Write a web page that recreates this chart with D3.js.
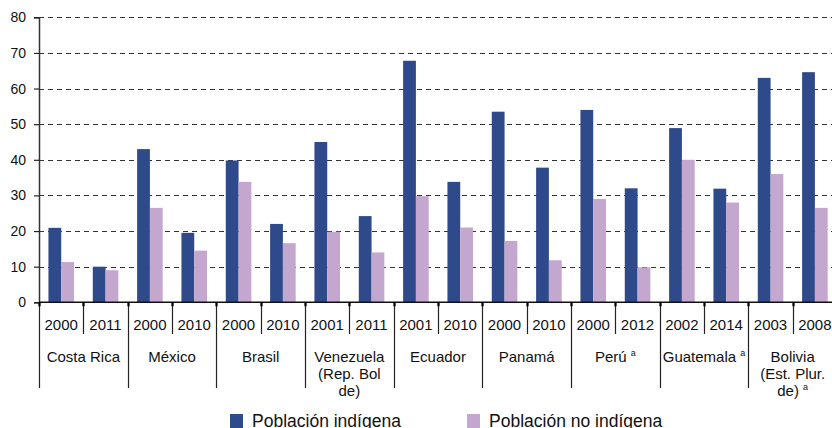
<!DOCTYPE html>
<html>
<head>
<meta charset="utf-8">
<script src="https://cdn.jsdelivr.net/npm/d3@7"></script>
<style>
  body { margin: 0; background: #fff; }
  svg { display: block; font-family: "Liberation Sans", Arial, sans-serif; }
</style>
</head>
<body>
<div id="chart"></div>
<script>
// country groups, each with two survey years
const countries = [
  { name: ['Costa Rica'], note: false },
  { name: ['México'], note: false },
  { name: ['Brasil'], note: false },
  { name: ['Venezuela', '(Rep. Bol', 'de)'], note: false },
  { name: ['Ecuador'], note: false },
  { name: ['Panamá'], note: false },
  { name: ['Perú'], note: true },
  { name: ['Guatemala'], note: true },
  { name: ['Bolivia', '(Est. Plur.', 'de)'], note: true }
];
const years = ['2000', '2011', '2000', '2010', '2000', '2010', '2001', '2011', '2001', '2010',
  '2000', '2010', '2000', '2012', '2002', '2014', '2003', '2008'];
const indigena = [20.9, 10, 43, 19.5, 39.8, 22, 45, 24.2, 67.8, 33.8, 53.5, 37.8, 54, 32, 48.9, 31.9, 63, 64.6];
const noIndigena = [11.3, 9, 26.5, 14.5, 33.8, 16.6, 19.8, 14, 29.8, 21, 17.2, 11.8, 29, 9.8, 40, 28, 36, 26.5];
const series = ['Población indígena', 'Población no indígena'];
const colors = ['#2f4a8a', '#c4a7cf'];
const yTicks = [0, 10, 20, 30, 40, 50, 60, 70, 80];

const width = 832, height = 428;
const mLeft = 39, mRight = 837, mTop = 17.3, mBottom = 302.3;

const svg = d3.select('#chart').append('svg')
  .attr('width', width)
  .attr('height', height);

const y = d3.scaleLinear().domain([0, 80]).range([mBottom, mTop]);
const x0 = d3.scaleBand().domain(d3.range(years.length)).range([mLeft, mRight]).padding(0);
const step = x0.step();
const x1 = d3.scaleBand().domain([0, 1]).range([step * 0.213, step * 0.79]).padding(0);

// gridlines
svg.append('g')
  .selectAll('line')
  .data(yTicks.filter(d => d > 0))
  .join('line')
  .attr('x1', mLeft)
  .attr('x2', mRight)
  .attr('y1', d => Math.round(y(d)) + 0.5)
  .attr('y2', d => Math.round(y(d)) + 0.5)
  .attr('stroke', '#333')
  .attr('stroke-width', 1.2)
  .attr('stroke-dasharray', '5,4');

// bars
const groups = svg.append('g')
  .selectAll('g')
  .data(years.map((yr, i) => ({ i, vals: [indigena[i], noIndigena[i]] })))
  .join('g')
  .attr('transform', d => `translate(${x0(d.i)},0)`);

groups.selectAll('rect')
  .data(d => d.vals.map((v, k) => ({ v, k })))
  .join('rect')
  .attr('x', d => x1(d.k))
  .attr('width', x1.bandwidth())
  .attr('y', d => y(d.v))
  .attr('height', d => y(0) - y(d.v))
  .attr('fill', d => colors[d.k]);

// y axis
const yAxis = svg.append('g')
  .attr('transform', `translate(${mLeft},0)`)
  .call(d3.axisLeft(y).tickValues(yTicks).tickSize(5).tickPadding(8));
yAxis.select('.domain').attr('stroke', '#333').attr('stroke-width', 1.5);
yAxis.selectAll('.tick line').attr('stroke', '#222').attr('stroke-width', 1.2);
yAxis.selectAll('.tick text')
  .attr('font-size', 14)
  .attr('font-family', '"Liberation Sans", Arial, sans-serif')
  .attr('fill', '#111');

// x axis baseline
svg.append('line')
  .attr('x1', mLeft).attr('x2', mRight)
  .attr('y1', mBottom).attr('y2', mBottom)
  .attr('stroke', '#111').attr('stroke-width', 1.5);

// separators: short between years, long between countries
const seps = d3.range(years.length + 1);
svg.append('g')
  .selectAll('line')
  .data(seps)
  .join('line')
  .attr('x1', d => Math.round(mLeft + d * step) + 0.5)
  .attr('x2', d => Math.round(mLeft + d * step) + 0.5)
  .attr('y1', mBottom)
  .attr('y2', d => d % 2 === 0 ? 388 : 334)
  .attr('stroke', '#222')
  .attr('stroke-width', 1.2);

svg.append('g')
  .selectAll('line')
  .data(seps)
  .join('line')
  .attr('x1', d => Math.round(mLeft + d * step) + 0.5)
  .attr('x2', d => Math.round(mLeft + d * step) + 0.5)
  .attr('y1', mBottom)
  .attr('y2', mBottom + 4)
  .attr('stroke', '#000')
  .attr('stroke-width', 2.2);

// year labels
svg.append('g')
  .selectAll('text')
  .data(years)
  .join('text')
  .attr('x', (d, i) => x0(i) + step / 2)
  .attr('y', 329.5)
  .attr('text-anchor', 'middle')
  .attr('font-size', 15)
  .attr('fill', '#111')
  .text(d => d);

// country labels
const cLabels = svg.append('g')
  .selectAll('text')
  .data(countries)
  .join('text')
  .attr('x', (d, i) => mLeft + (i * 2 + 1) * step)
  .attr('y', 362)
  .attr('text-anchor', 'middle')
  .attr('font-size', 15)
  .attr('fill', '#111');

cLabels.each(function (d) {
  const t = d3.select(this);
  d.name.forEach((line, j) => {
    const span = t.append('tspan')
      .attr('x', t.attr('x'))
      .attr('dy', j === 0 ? 0 : 17)
      .text(line);
    if (d.note && j === d.name.length - 1) {
      span.text(line + ' ');
      t.append('tspan')
        .attr('font-size', 9)
        .attr('dy', -6)
        .text('a');
    }
  });
});

// legend
const legend = svg.append('g');
const legendX = [230, 467];
series.forEach((s, k) => {
  legend.append('rect')
    .attr('x', legendX[k])
    .attr('y', 414)
    .attr('width', 13)
    .attr('height', 14)
    .attr('fill', colors[k]);
  legend.append('text')
    .attr('x', legendX[k] + 22)
    .attr('y', 426.5)
    .attr('font-size', 17.5)
    .attr('fill', '#111')
    .text(s);
});
</script>
</body>
</html>
